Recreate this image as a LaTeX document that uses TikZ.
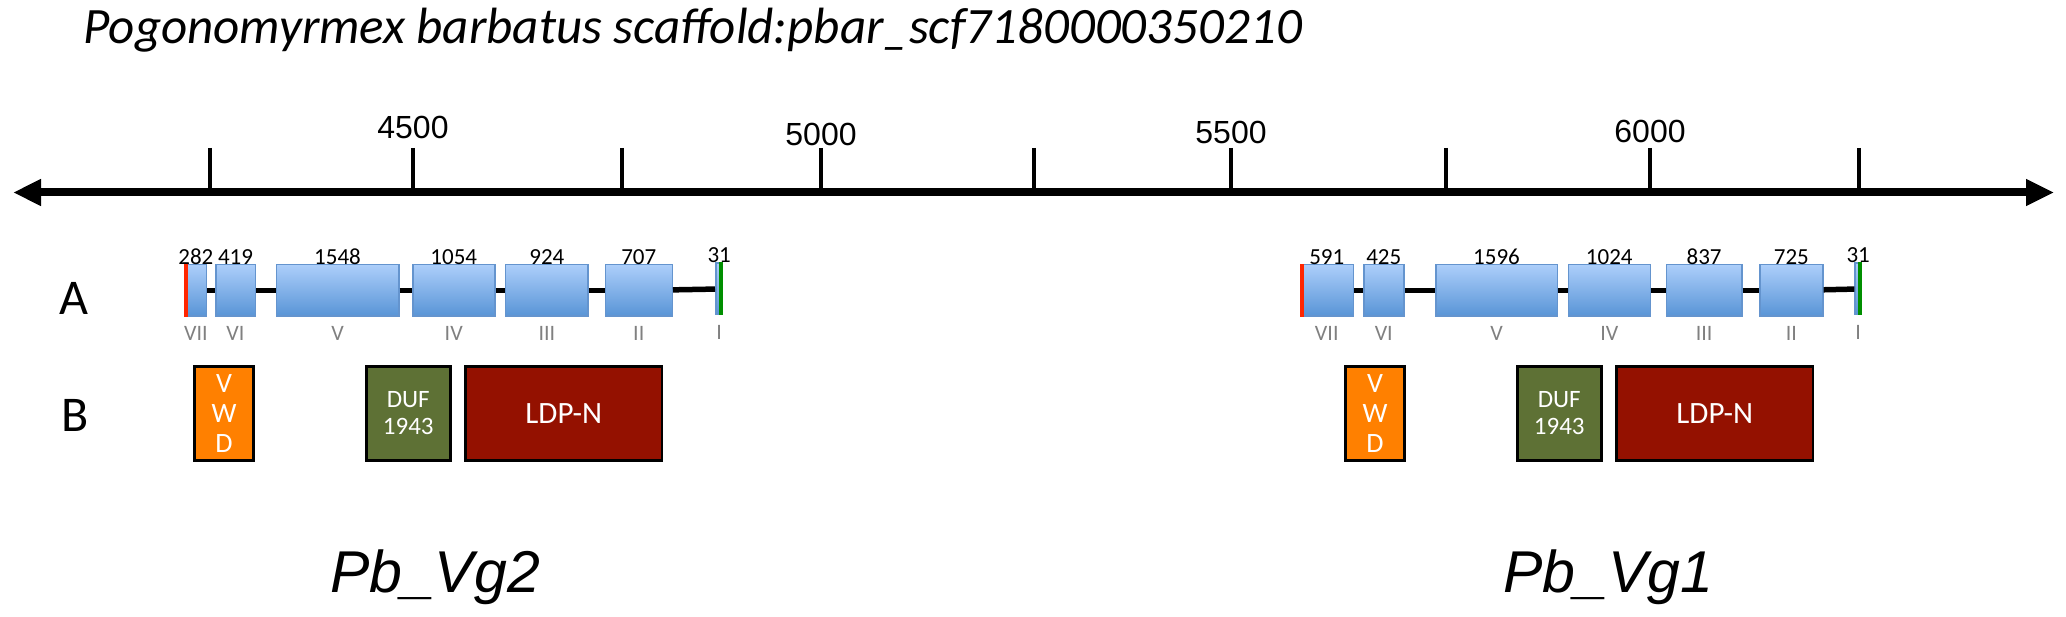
\documentclass[tikz,border=0pt]{standalone}
\usepackage{fontspec}
\setmainfont{Carlito}
\newfontfamily\arialfont{Liberation Sans}
\usepackage{xcolor}
\usetikzlibrary{shapes,arrows.meta,positioning}

\definecolor{exontop}{RGB}{172,206,250}
\definecolor{exonbot}{RGB}{88,148,214}
\definecolor{exonline}{RGB}{100,148,206}
\definecolor{startred}{RGB}{255,38,0}
\definecolor{stopgreen}{RGB}{0,143,0}
\definecolor{vwdorange}{RGB}{255,128,0}
\definecolor{dufolive}{RGB}{94,113,53}
\definecolor{ldpred}{RGB}{148,17,0}

\begin{document}
\begin{tikzpicture}[x=1pt, y=-1pt,
exon/.style={rectangle, draw=exonline, line width=1.5pt, top color=exontop, bottom color=exonbot, minimum height=51.5pt, inner sep=0pt},
num/.style={font=\fontsize{23}{26}\selectfont, label distance=-4pt},
roman/.style={font=\fontsize{22}{25}\selectfont, text=gray, label distance=6pt},
intron/.style={line width=5.5pt},
dombox/.style={rectangle, draw=black, line width=2.7pt, minimum height=94pt, inner sep=0pt, text=white, align=center},
axis/.style={line width=8pt, {Triangle[length=28pt,width=25pt]}-{Triangle[length=28pt,width=25pt]}},
tick/.style={line width=3.5pt},
ticklabel/.style={font=\arialfont\fontsize{32}{36}\selectfont},
rowlabel/.style={font=\fontsize{50}{55}\selectfont},
genename/.style={font=\arialfont\fontsize{59}{64}\selectfont\itshape},
]
\useasboundingbox (0,0) rectangle (2066,617);

% Titulo
\node[anchor=base west, font=\fontsize{51}{55}\selectfont\itshape] (title) at (80,44) {Pogonomyrmex barbatus scaffold:pbar\_scf7180000350210};

% Eixo
\coordinate (axl) at (13,192.5);
\coordinate (axr) at (2054,192.5);
\draw[axis] (axl) -- (axr);
\foreach \x in {210,413,622,821,1034,1231,1446,1650,1859}
  \draw[tick] (\x,148) -- (\x,192.5);
\node[ticklabel] (t4500) at (413,127) {4500};
\node[ticklabel] (t5000) at (821,134) {5000};
\node[ticklabel] (t5500) at (1231,132) {5500};
\node[ticklabel] (t6000) at (1650,131) {6000};

% Linhas
\node[rowlabel] (rowa) at (73.5,298) {A};
\node[rowlabel] (rowb) at (75,415) {B};

% Exons Pb_Vg2
\node[exon, anchor=west, minimum width=21.5pt, label={[num, name=g2n7]above:282}, label={[roman, name=g2r7]below:VII}] (g2e7) at (184.4,290.5) {};
\node[exon, right=7.6pt of g2e7, minimum width=39.5pt, label={[num, name=g2n6]above:419}, label={[roman, name=g2r6]below:VI}] (g2e6) {};
\node[exon, right=19.5pt of g2e6, minimum width=122.5pt, label={[num, name=g2n5]above:1548}, label={[roman, name=g2r5]below:V}] (g2e5) {};
\node[exon, right=12.5pt of g2e5, minimum width=82pt, label={[num, name=g2n4]above:1054}, label={[roman, name=g2r4]below:IV}] (g2e4) {};
\node[exon, right=9.4pt of g2e4, minimum width=82.5pt, label={[num, name=g2n3]above:924}, label={[roman, name=g2r3]below:III}] (g2e3) {};
\node[exon, right=15.6pt of g2e3, minimum width=67pt, label={[num, name=g2n2]above:707}, label={[roman, name=g2r2]below:II}] (g2e2) {};
\node[exon, right=42pt of g2e2, minimum width=6.8pt, yshift=1.5pt, label={[num, name=g2n1]above:31}, label={[roman, name=g2r1]below:I}] (g2e1) {};

% Exons Pb_Vg1
\node[exon, anchor=west, minimum width=53pt, label={[num, name=g1n7]above:591}, label={[roman, name=g1r7]below:VII}] (g1e7) at (1299.5,290.5) {};
\node[exon, right=9pt of g1e7, minimum width=40pt, label={[num, name=g1n6]above:425}, label={[roman, name=g1r6]below:VI}] (g1e6) {};
\node[exon, right=30.5pt of g1e6, minimum width=121.5pt, label={[num, name=g1n5]above:1596}, label={[roman, name=g1r5]below:V}] (g1e5) {};
\node[exon, right=9.5pt of g1e5, minimum width=82pt, label={[num, name=g1n4]above:1024}, label={[roman, name=g1r4]below:IV}] (g1e4) {};
\node[exon, right=14.6pt of g1e4, minimum width=75.5pt, label={[num, name=g1n3]above:837}, label={[roman, name=g1r3]below:III}] (g1e3) {};
\node[exon, right=16.5pt of g1e3, minimum width=63pt, label={[num, name=g1n2]above:725}, label={[roman, name=g1r2]below:II}] (g1e2) {};
\node[exon, right=30.8pt of g1e2, minimum width=6.1pt, yshift=1.5pt, label={[num, name=g1n1]above:31}, label={[roman, name=g1r1]below:I}] (g1e1) {};

% Introns
\foreach \g in {2,1}
  \foreach \a/\b in {7/6,6/5,5/4,4/3,3/2,2/1}
    \draw[intron] (g\g e\a) -- (g\g e\b);

% Inicio e fim
\foreach \g in {2,1} {
  \fill[startred] (g\g e7.north west) rectangle ([xshift=4pt]g\g e7.south west);
  \fill[stopgreen] ([xshift=-4pt]g\g e1.north east) rectangle (g\g e1.south east);
}

% Dominios Pb_Vg2
\node[dombox, fill=vwdorange, anchor=west, minimum width=59.3pt, font=\fontsize{28}{30}\selectfont] (g2vwd) at (193,413.4) {V\\W\\D};
\node[dombox, fill=dufolive, right=110pt of g2vwd, minimum width=83.8pt, font=\fontsize{25}{27}\selectfont] (g2duf) {DUF\\1943};
\node[dombox, fill=ldpred, right=12.8pt of g2duf, minimum width=196.3pt, font=\fontsize{31}{34}\selectfont] (g2ldp) {LDP-N};

% Dominios Pb_Vg1
\node[dombox, fill=vwdorange, anchor=west, minimum width=59.3pt, font=\fontsize{28}{30}\selectfont] (g1vwd) at (1344,413.4) {V\\W\\D};
\node[dombox, fill=dufolive, right=110pt of g1vwd, minimum width=83.8pt, font=\fontsize{25}{27}\selectfont] (g1duf) {DUF\\1943};
\node[dombox, fill=ldpred, right=12.8pt of g1duf, minimum width=196.3pt, font=\fontsize{31}{34}\selectfont] (g1ldp) {LDP-N};

% Genes
\node[genename] (vg2) at (435,577) {Pb\_Vg2};
\node[genename] (vg1) at (1608,577) {Pb\_Vg1};

\end{tikzpicture}
\end{document}
